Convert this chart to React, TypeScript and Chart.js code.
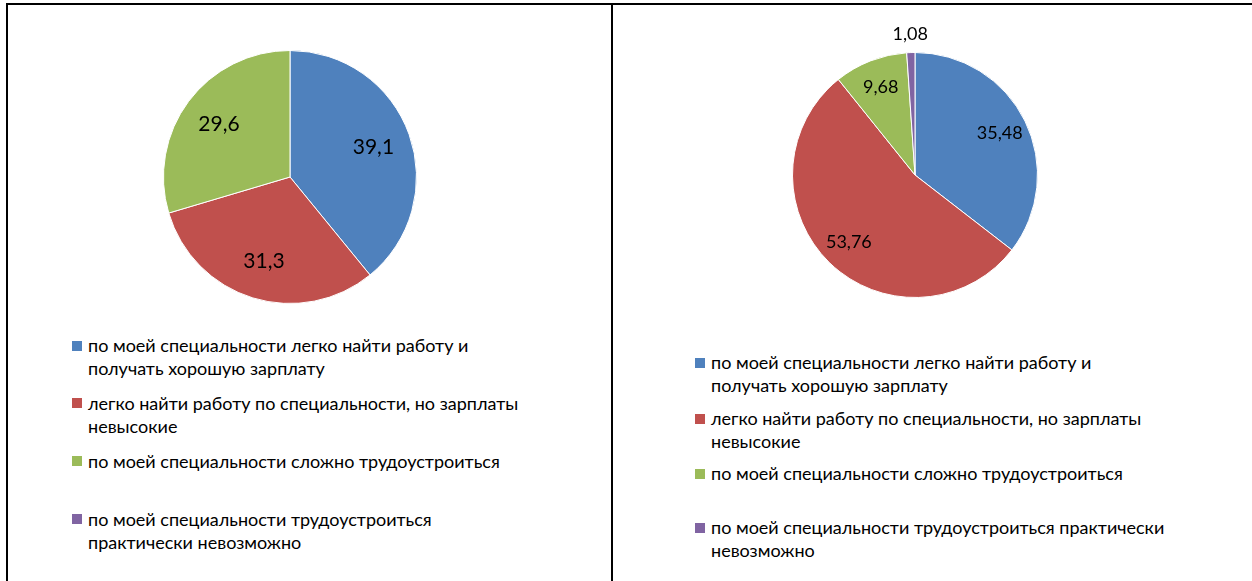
import React, { useEffect, useRef } from 'react';
import { Chart, registerables } from 'chart.js';

Chart.register(...registerables);

const categories: string[] = [
  'по моей специальности легко найти работу и получать хорошую зарплату',
  'легко найти работу по специальности, но зарплаты невысокие',
  'по моей специальности сложно трудоустроиться',
  'по моей специальности трудоустроиться практически невозможно',
];

// how the legend entries wrap in each panel (word counts on the first line)
const leftWrapWords: number[] = [7, 7, 5, 4];
const rightWrapWords: number[] = [7, 7, 5, 5];

const sliceColors: string[] = ['#4F81BD', '#C0504D', '#9BBB59', '#8064A2'];

const leftValues: number[] = [39.1, 31.3, 29.6];
const rightValues: number[] = [35.48, 53.76, 9.68, 1.08];

const FONT = 'Lato, "Open Sans", "Noto Sans", sans-serif';

const splitLabel = (text: string, n: number): string[] => {
  const words = text.split(' ');
  if (n >= words.length) return [text];
  return [words.slice(0, n).join(' '), words.slice(n).join(' ')];
};

const valueLabelPlugin = {
  id: 'valueLabels',
  afterDatasetsDraw(chart: any, _args: any, opts: any) {
    const ctx = chart.ctx;
    const meta = chart.getDatasetMeta(0);
    const data = chart.data.datasets[0].data as number[];
    const total = data.reduce((a, b) => a + b, 0);
    ctx.save();
    ctx.font = `${opts.fontSize}px ${FONT}`;
    ctx.fillStyle = '#000';
    ctx.textAlign = 'center';
    ctx.textBaseline = 'middle';
    meta.data.forEach((arc: any, i: number) => {
      const p = arc.getProps(['x', 'y', 'startAngle', 'endAngle', 'outerRadius'], true);
      const mid = (p.startAngle + p.endAngle) / 2;
      const frac = data[i] / total;
      const r = frac < 0.03 ? p.outerRadius + opts.outside : p.outerRadius * opts.radial;
      const x = p.x + Math.cos(mid) * r;
      const y = p.y + Math.sin(mid) * r;
      ctx.fillText(String(data[i]).replace('.', ','), x, y);
    });
    ctx.restore();
  },
};

type PieProps = {
  values: number[];
  left: number;
  top: number;
  width: number;
  height: number;
  padding: { left: number; right: number; top: number; bottom: number };
  fontSize: number;
  radial: number;
};

function Pie({ values, left, top, width, height, padding, fontSize, radial }: PieProps) {
  const ref = useRef<HTMLCanvasElement | null>(null);
  useEffect(() => {
    if (!ref.current) return;
    const chart = new Chart(ref.current, {
      type: 'pie',
      data: {
        labels: categories.slice(0, values.length),
        datasets: [
          {
            data: values,
            backgroundColor: sliceColors.slice(0, values.length),
            borderColor: '#ffffff',
            borderWidth: 1,
          },
        ],
      },
      options: {
        responsive: false,
        animation: false,
        maintainAspectRatio: false,
        layout: { padding },
        plugins: {
          legend: { display: false },
          tooltip: { enabled: false },
          valueLabels: { fontSize, radial, outside: 18 },
        } as any,
      },
      plugins: [valueLabelPlugin],
    });
    return () => chart.destroy();
  }, []);
  return (
    <canvas
      ref={ref}
      width={width}
      height={height}
      style={{ position: 'absolute', left, top, width, height }}
    />
  );
}

type LegendProps = {
  wrap: number[];
  boxLeft: number;
  textLeft: number;
  firstTop: number;
  slot: number[];
  fontSize: number;
  lineHeight: number;
};

function Legend({ wrap, boxLeft, textLeft, firstTop, slot, fontSize, lineHeight }: LegendProps) {
  let y = firstTop;
  return (
    <>
      {categories.map((c, i) => {
        const lines = splitLabel(c, wrap[i]);
        const top = y;
        y += slot[i] || 0;
        return (
          <div key={i}>
            <div
              style={{
                position: 'absolute',
                left: boxLeft,
                top: top + lineHeight / 2 - 5,
                width: 10,
                height: 10,
                background: sliceColors[i],
              }}
            />
            {lines.map((l, j) => (
              <div
                key={j}
                style={{
                  position: 'absolute',
                  left: textLeft,
                  top: top + j * lineHeight,
                  height: lineHeight,
                  lineHeight: `${lineHeight}px`,
                  fontSize,
                  fontFamily: FONT,
                  color: '#000',
                  whiteSpace: 'nowrap',
                }}
              >
                {l}
              </div>
            ))}
          </div>
        );
      })}
    </>
  );
}

export default function App() {
  return (
    <div
      style={{
        position: 'fixed',
        left: 0,
        top: 0,
        width: 1252,
        height: 581,
        background: '#fff',
        overflow: 'hidden',
      }}
    >
      {/* table borders */}
      <div style={{ position: 'absolute', left: 6, top: 3, width: 1252, height: 2, background: '#000' }} />
      <div style={{ position: 'absolute', left: 6, top: 3, width: 2, height: 578, background: '#000' }} />
      <div style={{ position: 'absolute', left: 611, top: 3, width: 2, height: 578, background: '#000' }} />

      <Pie
        values={leftValues}
        left={10}
        top={5}
        width={560}
        height={310}
        padding={{ left: 153, right: 153, top: 45, bottom: 11 }}
        fontSize={21}
        radial={0.7}
      />
      <Pie
        values={rightValues}
        left={620}
        top={5}
        width={620}
        height={310}
        padding={{ left: 172, right: 202, top: 47, bottom: 17 }}
        fontSize={18}
        radial={0.77}
      />

      <Legend
        wrap={leftWrapWords}
        boxLeft={72}
        textLeft={88}
        firstTop={334}
        slot={[57.5, 58, 58, 0]}
        fontSize={18}
        lineHeight={23}
      />
      <Legend
        wrap={rightWrapWords}
        boxLeft={695}
        textLeft={711}
        firstTop={351}
        slot={[56, 55, 54, 0]}
        fontSize={18}
        lineHeight={23}
      />
    </div>
  );
}
